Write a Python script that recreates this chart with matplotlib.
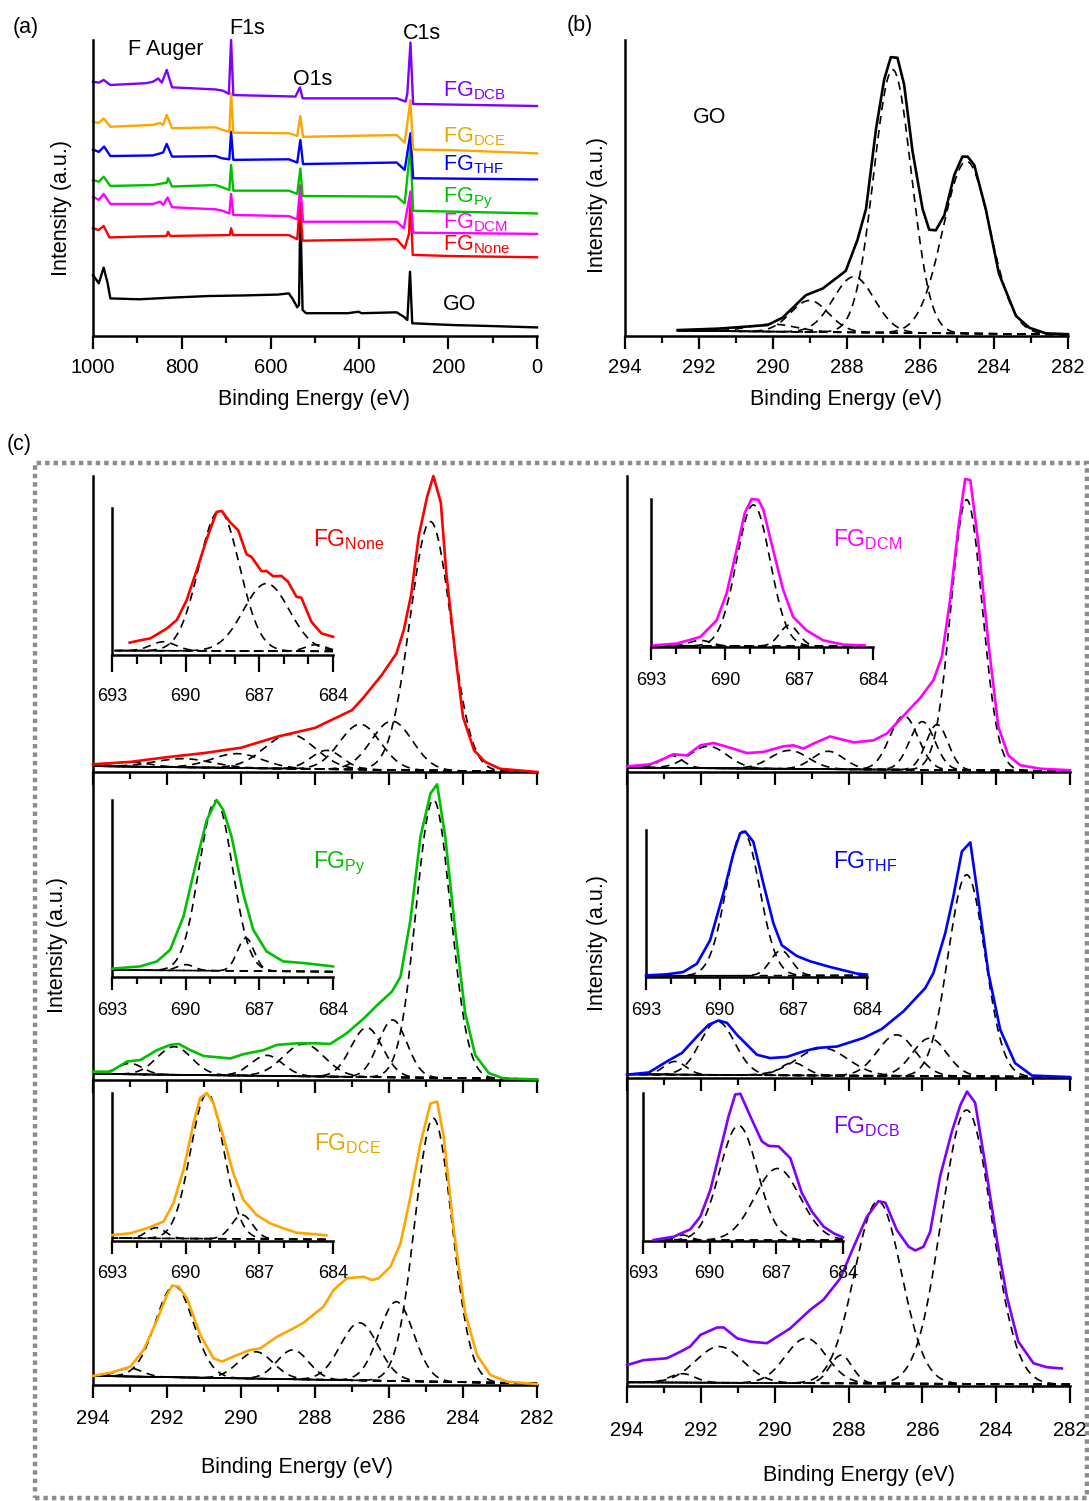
import numpy as np
import matplotlib
matplotlib.use('Agg')
import matplotlib.pyplot as plt
from matplotlib.patches import Rectangle

plt.rcParams['font.family'] = ['Liberation Sans', 'DejaVu Sans']
plt.rcParams['mathtext.fontset'] = 'custom'
plt.rcParams['mathtext.rm'] = 'Liberation Sans'
plt.rcParams['mathtext.it'] = 'Liberation Sans:italic'
plt.rcParams['mathtext.bf'] = 'Liberation Sans:bold'

# ---------------- survey spectra (a), normalised to panel height ----------------
go_svy_be = [1000, 987, 976, 967, 961, 896, 818, 740, 661, 583, 559, 551, 540, 536, 533, 528, 520, 426, 402, 395, 316, 300, 292, 286, 281, 190, 112, 0]
go_svy_int = [0.206, 0.178, 0.231, 0.178, 0.127, 0.124, 0.13, 0.135, 0.137, 0.14, 0.144, 0.127, 0.097, 0.105, 0.431, 0.088, 0.077, 0.077, 0.082, 0.077, 0.08, 0.065, 0.054, 0.217, 0.043, 0.037, 0.034, 0.029]
none_svy_be = [1000, 987, 976, 963, 896, 834, 831, 826, 692, 689, 685, 559, 540, 534, 528, 316, 298, 288, 285, 280, 190, 0]
none_svy_int = [0.364, 0.358, 0.372, 0.333, 0.336, 0.338, 0.352, 0.338, 0.341, 0.364, 0.341, 0.341, 0.327, 0.45, 0.322, 0.327, 0.296, 0.347, 0.482, 0.274, 0.27, 0.266]
dcm_svy_be = [1000, 987, 976, 961, 865, 849, 842, 832, 822, 724, 708, 693, 689, 684, 559, 540, 533, 527, 316, 300, 285, 279, 0]
dcm_svy_int = [0.47, 0.46, 0.48, 0.446, 0.446, 0.454, 0.443, 0.468, 0.435, 0.428, 0.423, 0.414, 0.48, 0.409, 0.405, 0.394, 0.51, 0.386, 0.386, 0.364, 0.488, 0.349, 0.345]
py_svy_be = [1000, 987, 976, 961, 865, 834, 831, 822, 724, 708, 693, 689, 684, 559, 540, 533, 528, 316, 298, 285, 279, 0]
py_svy_int = [0.527, 0.521, 0.538, 0.507, 0.51, 0.518, 0.533, 0.505, 0.51, 0.502, 0.493, 0.578, 0.491, 0.491, 0.48, 0.566, 0.473, 0.471, 0.448, 0.64, 0.423, 0.414]
thf_svy_be = [1000, 987, 975, 961, 865, 842, 834, 822, 724, 708, 693, 689, 684, 559, 540, 533, 527, 316, 298, 285, 279, 0]
thf_svy_int = [0.63, 0.622, 0.64, 0.608, 0.61, 0.62, 0.649, 0.606, 0.608, 0.6, 0.597, 0.69, 0.595, 0.597, 0.586, 0.662, 0.581, 0.586, 0.561, 0.685, 0.533, 0.529]
dce_svy_be = [1000, 987, 976, 961, 865, 849, 842, 834, 822, 724, 708, 693, 689, 684, 559, 540, 533, 527, 316, 298, 285, 279, 190, 0]
dce_svy_int = [0.724, 0.72, 0.735, 0.707, 0.713, 0.72, 0.713, 0.747, 0.702, 0.705, 0.696, 0.69, 0.82, 0.687, 0.685, 0.676, 0.743, 0.673, 0.679, 0.653, 0.797, 0.63, 0.628, 0.617]
dcb_svy_be = [1000, 987, 976, 961, 881, 865, 853, 845, 834, 822, 724, 708, 694, 689, 684, 544, 534, 528, 316, 296, 292, 285, 279, 0]
dcb_svy_int = [0.859, 0.856, 0.865, 0.848, 0.854, 0.859, 0.87, 0.856, 0.899, 0.84, 0.833, 0.829, 0.818, 1.0, 0.814, 0.809, 0.84, 0.803, 0.803, 0.792, 0.82, 0.991, 0.784, 0.777]

# ---------------- GO C1s (b) ----------------
go_c_be = [292.57, 291.45, 290.14, 289.73, 289.1, 288.65, 288.02, 287.7, 287.47, 287.2, 286.98, 286.8, 286.62, 286.44, 286.21, 285.94, 285.76, 285.58, 285.35, 285.08, 284.86, 284.72, 284.54, 284.23, 283.87, 283.41, 283.05, 282.6, 282.0]
go_c_int = [0.02, 0.025, 0.037, 0.062, 0.138, 0.16, 0.22, 0.326, 0.43, 0.70, 0.866, 0.942, 0.94, 0.85, 0.623, 0.43, 0.359, 0.357, 0.408, 0.544, 0.606, 0.606, 0.578, 0.43, 0.21, 0.068, 0.028, 0.009, 0.006]
go_c_pos = [286.75, 284.75, 287.8, 289.0, 290.0]
go_c_amp = [0.90, 0.59, 0.20, 0.12, 0.04]
go_c_fwhm = [1.2, 1.5, 1.3, 1.2, 1.5]

# ---------------- C1s (c) ----------------
none_c_be = [294, 293, 292, 291, 290, 289, 288, 287, 286.7, 286.2, 285.8, 285.6, 285.4, 285.2, 284.97, 284.8, 284.6, 284.45, 284.2, 284.0, 283.7, 283.4, 283.0, 282]
none_c_int = [0.026, 0.034, 0.05, 0.064, 0.082, 0.12, 0.149, 0.209, 0.25, 0.327, 0.40, 0.48, 0.60, 0.795, 0.93, 1.0, 0.91, 0.67, 0.39, 0.186, 0.073, 0.034, 0.011, 0.0]
none_c_pos = [284.88, 285.92, 286.78, 287.68, 288.67, 290.1, 291.55, 293.0]
none_c_amp = [0.846, 0.172, 0.161, 0.073, 0.127, 0.062, 0.045, 0.034]
none_c_fwhm = [1.3, 1.3, 1.3, 1.0, 1.6, 1.6, 1.8, 1.2]

dcm_c_be = [294, 293.37, 293.05, 292.74, 292.38, 292.01, 291.65, 291.29, 290.75, 290.3, 289.76, 289.49, 289.22, 288.95, 288.5, 287.86, 287.32, 286.96, 286.51, 286.06, 285.7, 285.47, 285.25, 285.02, 284.84, 284.7, 284.48, 284.21, 283.94, 283.67, 283.35, 282.8, 282.0]
dcm_c_int = [0.019, 0.026, 0.042, 0.06, 0.056, 0.09, 0.098, 0.085, 0.064, 0.068, 0.087, 0.09, 0.079, 0.096, 0.12, 0.10, 0.107, 0.13, 0.19, 0.25, 0.31, 0.39, 0.58, 0.83, 0.99, 0.986, 0.77, 0.434, 0.152, 0.056, 0.023, 0.011, 0.006]
dcm_c_pos = [284.8, 285.6, 286.0, 286.5, 288.55, 289.6, 291.8, 292.8]
dcm_c_amp = [0.92, 0.16, 0.17, 0.19, 0.07, 0.073, 0.087, 0.056]
dcm_c_fwhm = [1.0, 0.7, 0.8, 0.9, 1.0, 1.2, 1.2, 0.7]

py_c_be = [294, 293.53, 293.08, 292.72, 292.27, 291.91, 291.68, 291.37, 291.01, 290.29, 289.93, 289.39, 289.03, 288.49, 287.95, 287.59, 287.14, 286.68, 286.32, 285.92, 285.69, 285.42, 285.15, 284.88, 284.7, 284.48, 284.21, 283.94, 283.67, 283.3, 282.9, 282]
py_c_int = [0.027, 0.027, 0.06, 0.065, 0.097, 0.114, 0.117, 0.097, 0.078, 0.07, 0.084, 0.097, 0.114, 0.119, 0.119, 0.117, 0.152, 0.20, 0.243, 0.287, 0.335, 0.52, 0.79, 0.93, 0.96, 0.79, 0.487, 0.216, 0.081, 0.022, 0.005, 0.002]
py_c_pos = [284.8, 285.9, 286.6, 288.3, 289.3, 291.8, 293.0]
py_c_amp = [0.91, 0.195, 0.17, 0.117, 0.08, 0.108, 0.054]
py_c_fwhm = [1.1, 0.9, 1.0, 1.3, 1.0, 1.1, 0.8]

thf_c_be = [294, 293.41, 292.92, 292.51, 292.1, 291.79, 291.52, 291.29, 291.02, 290.48, 290.12, 289.67, 289.22, 288.86, 288.31, 287.59, 287.1, 286.51, 285.92, 285.7, 285.38, 285.16, 284.93, 284.7, 284.48, 284.21, 283.89, 283.49, 283.03, 282]
thf_c_int = [0.011, 0.018, 0.054, 0.082, 0.136, 0.174, 0.188, 0.18, 0.141, 0.076, 0.065, 0.069, 0.087, 0.098, 0.103, 0.131, 0.16, 0.218, 0.294, 0.343, 0.473, 0.593, 0.74, 0.77, 0.582, 0.343, 0.158, 0.049, 0.008, 0.003]
thf_c_pos = [284.8, 285.8, 286.7, 288.7, 289.5, 291.55, 292.7]
thf_c_amp = [0.664, 0.13, 0.141, 0.098, 0.05, 0.185, 0.054]
thf_c_fwhm = [1.17, 1.1, 1.2, 1.6, 0.8, 1.1, 0.7]

dce_c_be = [294, 293.53, 292.99, 292.63, 292.27, 292.0, 291.86, 291.68, 291.46, 291.1, 290.74, 290.51, 290.11, 289.75, 289.48, 289.03, 288.67, 288.31, 287.77, 287.5, 287.14, 286.68, 286.46, 286.28, 285.96, 285.69, 285.42, 285.15, 284.88, 284.7, 284.52, 284.25, 283.94, 283.62, 283.26, 282.81, 282]
dce_c_int = [0.03, 0.04, 0.06, 0.115, 0.213, 0.295, 0.326, 0.322, 0.284, 0.164, 0.087, 0.077, 0.098, 0.115, 0.12, 0.158, 0.18, 0.204, 0.257, 0.311, 0.35, 0.355, 0.344, 0.35, 0.388, 0.464, 0.617, 0.792, 0.923, 0.929, 0.814, 0.508, 0.235, 0.098, 0.033, 0.011, 0.003]
dce_c_pos = [284.8, 285.8, 286.8, 288.6, 289.6, 291.8, 293.0]
dce_c_amp = [0.874, 0.273, 0.204, 0.115, 0.109, 0.325, 0.055]
dce_c_fwhm = [1.18, 1.1, 1.2, 1.0, 1.1, 1.2, 0.8]

dcb_c_be = [294, 293.55, 292.92, 292.56, 292.29, 292.01, 291.56, 291.38, 291.02, 290.66, 290.21, 289.58, 289.04, 288.68, 288.22, 287.86, 287.5, 287.19, 287.0, 286.69, 286.37, 286.19, 285.97, 285.79, 285.52, 285.2, 284.97, 284.79, 284.57, 284.3, 283.98, 283.71, 283.4, 282.99, 282.63, 282.22]
dcb_c_int = [0.068, 0.084, 0.09, 0.111, 0.128, 0.166, 0.19, 0.19, 0.155, 0.144, 0.139, 0.187, 0.247, 0.28, 0.35, 0.452, 0.55, 0.60, 0.595, 0.506, 0.452, 0.44, 0.452, 0.50, 0.68, 0.826, 0.912, 0.956, 0.92, 0.723, 0.474, 0.29, 0.144, 0.074, 0.061, 0.057]
dcb_c_pos = [284.8, 287.2, 289.15, 288.2, 291.5, 292.5]
dcb_c_amp = [0.896, 0.60, 0.155, 0.10, 0.128, 0.04]
dcb_c_fwhm = [1.6, 1.5, 1.3, 0.7, 1.5, 0.8]

# ---------------- F1s insets ----------------
none_f_be = [692.28, 691.85, 691.44, 691.1, 690.77, 690.36, 689.96, 689.55, 689.14, 688.74, 688.53, 688.2, 687.86, 687.52, 687.32, 686.91, 686.71, 686.44, 686.1, 685.83, 685.49, 685.29, 684.88, 684.47, 684.0]
none_f_int = [0.084, 0.10, 0.113, 0.147, 0.18, 0.238, 0.373, 0.577, 0.79, 0.973, 0.98, 0.905, 0.848, 0.685, 0.667, 0.57, 0.572, 0.536, 0.538, 0.498, 0.396, 0.39, 0.226, 0.147, 0.124]
none_f_pos = [688.63, 686.71, 690.9, 684.7]
none_f_amp = [0.98, 0.486, 0.09, 0.07]
none_f_fwhm = [1.95, 2.2, 1.2, 1.0]

dcm_f_be = [692.9, 691.96, 691.0, 690.34, 689.94, 689.53, 689.2, 688.92, 688.65, 688.45, 688.05, 687.64, 687.24, 686.7, 686.02, 685.21, 684.34]
dcm_f_int = [0.011, 0.023, 0.068, 0.18, 0.36, 0.656, 0.905, 1.0, 0.995, 0.93, 0.656, 0.385, 0.204, 0.113, 0.045, 0.016, 0.011]
dcm_f_pos = [688.85, 687.4, 691.0]
dcm_f_amp = [0.96, 0.147, 0.045]
dcm_f_fwhm = [1.6, 0.9, 1.0]

py_f_be = [693, 691.85, 691.17, 690.63, 690.09, 689.55, 689.14, 688.74, 688.47, 688.13, 687.66, 687.25, 686.71, 686.03, 685.22, 684.0]
py_f_int = [0.047, 0.06, 0.088, 0.154, 0.342, 0.66, 0.887, 1.0, 0.944, 0.793, 0.474, 0.267, 0.145, 0.088, 0.079, 0.06]
py_f_pos = [688.77, 687.55, 690.0]
py_f_amp = [0.996, 0.22, 0.07]
py_f_fwhm = [1.6, 0.8, 0.8]

thf_f_be = [693, 692.16, 691.48, 690.93, 690.39, 689.85, 689.44, 689.17, 688.96, 688.63, 688.22, 687.81, 687.47, 686.86, 686.32, 685.5, 684.41, 684.0]
thf_f_int = [0.011, 0.018, 0.034, 0.09, 0.25, 0.568, 0.84, 0.977, 0.99, 0.92, 0.636, 0.364, 0.216, 0.143, 0.107, 0.068, 0.023, 0.016]
thf_f_pos = [689.05, 687.5]
thf_f_amp = [0.99, 0.18]
thf_f_fwhm = [1.6, 1.0]

dce_f_be = [693, 692.26, 691.58, 690.9, 690.5, 690.09, 689.68, 689.41, 689.14, 688.87, 688.47, 688.06, 687.65, 687.11, 686.57, 686.03, 685.49, 684.81, 684.27]
dce_f_int = [0.04, 0.052, 0.086, 0.131, 0.255, 0.48, 0.797, 0.966, 1.0, 0.932, 0.707, 0.458, 0.278, 0.176, 0.12, 0.086, 0.056, 0.047, 0.038]
dce_f_pos = [689.12, 687.7, 691.2]
dce_f_amp = [0.996, 0.176, 0.09]
dce_f_fwhm = [1.6, 1.0, 0.9]

dcb_f_be = [692.52, 691.62, 690.87, 690.42, 689.97, 689.52, 689.15, 688.85, 688.62, 688.17, 687.65, 687.35, 686.9, 686.37, 685.85, 685.4, 684.87, 684.42, 684.0]
dcb_f_int = [0.007, 0.029, 0.079, 0.165, 0.345, 0.616, 0.842, 0.99, 0.995, 0.842, 0.673, 0.643, 0.639, 0.56, 0.323, 0.199, 0.097, 0.052, 0.025]
dcb_f_pos = [688.7, 686.95, 691.2]
dcb_f_amp = [0.78, 0.49, 0.04]
dcb_f_fwhm = [2.0, 2.4, 0.8]

RED, MAG, GRN, BLU, ORA, PUR = '#ff0000', '#ff00ff', '#00c000', '#0000ff', '#ffa500', '#7f00ff'
ORA_TXT = '#e8a800'

W, H = 1089, 1501
fig = plt.figure(figsize=(W / 100, H / 100), dpi=100)


def px_ax(x0, y0, x1, y1):
    a = fig.add_axes([x0 / W, 1 - y1 / H, (x1 - x0) / W, (y1 - y0) / H])
    a.patch.set_alpha(0)
    return a


def style(ax, size=14.5, major=9, minor=5, pad=7, labels=True):
    for s in ['top', 'right']:
        ax.spines[s].set_visible(False)
    for s in ['left', 'bottom']:
        ax.spines[s].set_linewidth(1.8)
    ax.set_yticks([])
    ax.tick_params(axis='x', which='major', direction='out', length=major, width=1.6,
                   labelsize=size, pad=pad, labelbottom=labels)
    ax.tick_params(axis='x', which='minor', direction='out', length=minor, width=1.6)


def ftext(x, y, s, **kw):
    fig.text(x / W, 1 - y / H, s, **kw)


def draw_fit(ax, be, inten, pos, amp, fwhm, color, xr, bg):
    x = np.linspace(xr[1], xr[0], 600)
    base = np.interp(x, [xr[1], xr[0]], [bg[1], bg[0]])
    dash = dict(color='k', lw=1.2, ls=(0, (5, 3.5)), clip_on=False)
    ax.plot(x, base, **dash)
    for c, a, w in zip(pos, amp, fwhm):
        b0 = np.interp(c, [xr[1], xr[0]], [bg[1], bg[0]])
        y = base + (a - b0) * np.exp(-4 * np.log(2) * (x - c) ** 2 / w ** 2)
        ax.plot(x, y, **dash)
    ax.plot(be, inten, color=color, lw=1.9, clip_on=False, zorder=5)


# ---------------- (a) ----------------
ax = px_ax(93, 40, 537, 336)
style(ax)
for be, it, col in [(go_svy_be, go_svy_int, 'k'), (none_svy_be, none_svy_int, RED),
                    (dcm_svy_be, dcm_svy_int, MAG), (py_svy_be, py_svy_int, GRN),
                    (thf_svy_be, thf_svy_int, BLU), (dce_svy_be, dce_svy_int, ORA),
                    (dcb_svy_be, dcb_svy_int, PUR)]:
    ax.plot(be, it, color=col, lw=1.7, clip_on=False)
ax.set_xlim(1000, 0)
ax.set_ylim(0, 1)
ax.set_xticks(range(0, 1001, 200))
ax.set_xticks(range(0, 1001, 100), minor=True)

for lbl, col, yb in [('DCB', PUR, 96), ('DCE', ORA_TXT, 142), ('THF', BLU, 170), ('Py', GRN, 202),
                     ('DCM', MAG, 228), ('None', RED, 250)]:
    ftext(443, yb, r'FG$_{\mathrm{%s}}$' % lbl, color=col, fontsize=15.5, va='baseline')
ftext(443, 310, 'GO', fontsize=15.5, va='baseline')
ftext(128, 55, 'F Auger', fontsize=15.5, va='baseline')
ftext(229, 34, 'F1s', fontsize=15.5, va='baseline')
ftext(293, 85, 'O1s', fontsize=15.5, va='baseline')
ftext(403, 39, 'C1s', fontsize=15.5, va='baseline')

# ---------------- (b) ----------------
ax = px_ax(625, 40, 1068, 336)
style(ax)
draw_fit(ax, go_c_be, go_c_int, go_c_pos, go_c_amp, go_c_fwhm, 'k', (292.6, 282), (0.018, 0.005))
ax.set_xlim(294, 282)
ax.set_ylim(0, 1)
ax.set_xticks(range(282, 295, 2))
ax.set_xticks(range(282, 295), minor=True)
ftext(693, 123, 'GO', fontsize=15.5, va='baseline')

# ---------------- (c) ----------------
panels = [
    ((93, 476, 537, 772), none_c_be, none_c_int, none_c_pos, none_c_amp, none_c_fwhm, RED, (0.02, 0.0), False,
     (112, 508, 333, 655), none_f_be, none_f_int, none_f_pos, none_f_amp, none_f_fwhm, (692.9, 684.0), (0.03, 0.025), 12, 12,
     'None', RED, 313, 546),
    ((627, 476, 1070, 772), dcm_c_be, dcm_c_int, dcm_c_pos, dcm_c_amp, dcm_c_fwhm, MAG, (0.015, 0.003), False,
     (651, 499, 873, 647), dcm_f_be, dcm_f_int, dcm_f_pos, dcm_f_amp, dcm_f_fwhm, (693, 684.3), (0.008, 0.005), 9, 9,
     'DCM', MAG, 833, 546),
    ((93, 772, 537, 1080), py_c_be, py_c_int, py_c_pos, py_c_amp, py_c_fwhm, GRN, (0.02, 0.003), False,
     (112, 800, 333, 977), py_f_be, py_f_int, py_f_pos, py_f_amp, py_f_fwhm, (693, 684.0), (0.04, 0.03), 9, 9,
     'Py', GRN, 313, 868),
    ((627, 772, 1070, 1078), thf_c_be, thf_c_int, thf_c_pos, thf_c_amp, thf_c_fwhm, BLU, (0.012, 0.003), False,
     (646, 830, 867, 977), thf_f_be, thf_f_int, thf_f_pos, thf_f_amp, thf_f_fwhm, (693, 684.0), (0.008, 0.01), 9, 9,
     'THF', BLU, 833, 868),
    ((93, 1080, 537, 1385), dce_c_be, dce_c_int, dce_c_pos, dce_c_amp, dce_c_fwhm, ORA, (0.03, 0.005), True,
     (112, 1093, 333, 1241), dce_f_be, dce_f_int, dce_f_pos, dce_f_amp, dce_f_fwhm, (693, 684.3), (0.02, 0.01), 9, 8,
     'DCE', ORA_TXT, 314, 1150),
    ((627, 1078, 1070, 1386), dcb_c_be, dcb_c_int, dcb_c_pos, dcb_c_amp, dcb_c_fwhm, PUR, (0.012, 0.005), True,
     (643, 1093, 843, 1241), dcb_f_be, dcb_f_int, dcb_f_pos, dcb_f_amp, dcb_f_fwhm, (692.5, 684.0), (0.005, 0.005), 9, 8,
     'DCB', PUR, 833, 1133),
]

for (box, be, it, pos, amp, fw, col, bg, lab, ibox, ibe, iit, ipos, iamp, ifw, ixr, ibg, imaj, ipad,
     name, tcol, tx, ty) in panels:
    ax = px_ax(*box)
    right_bottom = lab and box[0] > 600
    style(ax, labels=lab, major=12 if right_bottom else 9, pad=13 if right_bottom else 8)
    draw_fit(ax, be, it, pos, amp, fw, col, (294, 282), bg)
    ax.set_xlim(294, 282)
    ax.set_ylim(0, 1)
    ax.set_xticks(range(282, 295, 2))
    ax.set_xticks(range(282, 295), minor=True)

    ia = px_ax(*ibox)
    style(ia, size=13, major=imaj, minor=imaj * 0.55, pad=ipad)
    draw_fit(ia, ibe, iit, ipos, iamp, ifw, col, ixr, ibg)
    ia.set_xlim(693, 684)
    ia.set_ylim(0, 1)
    ia.set_xticks([693, 690, 687, 684])
    ia.set_xticks(range(684, 694), minor=True)

    ftext(tx, ty, r'FG$_{\mathrm{%s}}$' % name, color=tcol, fontsize=16.5, va='baseline')

# ---------------- axis titles and panel letters ----------------
ftext(314, 399, 'Binding Energy (eV)', fontsize=15.5, ha='center', va='center')
ftext(846, 399, 'Binding Energy (eV)', fontsize=15.5, ha='center', va='center')
ftext(297, 1467, 'Binding Energy (eV)', fontsize=15.5, ha='center', va='center')
ftext(859, 1475, 'Binding Energy (eV)', fontsize=15.5, ha='center', va='center')
ftext(61, 208, 'Intensity (a.u.)', fontsize=15.5, ha='center', va='center', rotation=90)
ftext(597, 205, 'Intensity (a.u.)', fontsize=15.5, ha='center', va='center', rotation=90)
ftext(58, 945, 'Intensity (a.u.)', fontsize=15.5, ha='center', va='center', rotation=90)
ftext(598, 943, 'Intensity (a.u.)', fontsize=15.5, ha='center', va='center', rotation=90)
ftext(13, 33, '(a)', fontsize=15.5, va='baseline')
ftext(567, 31, '(b)', fontsize=15.5, va='baseline')
ftext(7, 450, '(c)', fontsize=15.5, va='baseline')

fig.patches.append(Rectangle((35 / W, 1 - 1498 / H), (1087 - 35) / W, (1498 - 463) / H,
                             transform=fig.transFigure, fill=False, ec='#8c8c8c', lw=3.2,
                             ls=(0, (1, 0.9))))

fig.savefig('out.png', dpi=100)
